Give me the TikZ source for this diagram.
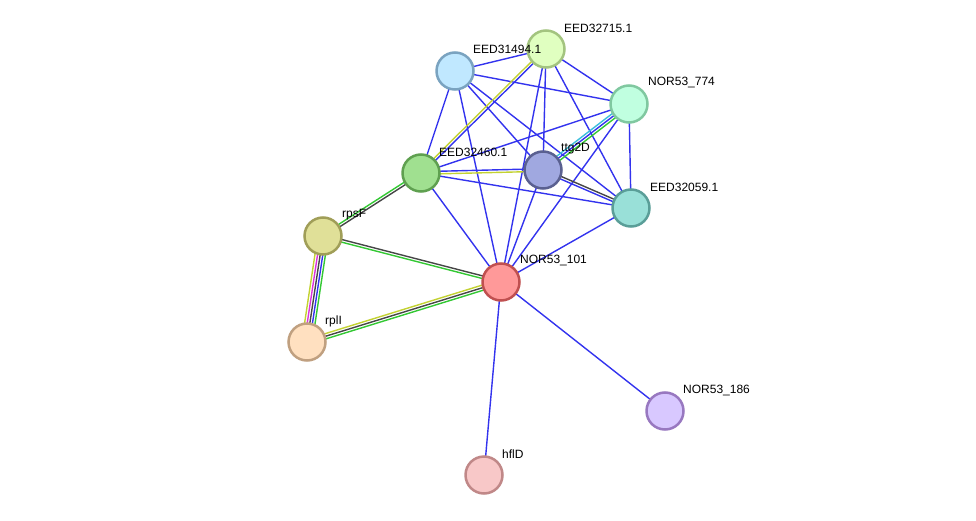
\documentclass[tikz,border=0pt]{standalone}
\usepackage{fontspec}
\setmainfont{Liberation Sans}
\usetikzlibrary{calc,backgrounds}

\definecolor{linkblue}{RGB}{51,51,238}
\definecolor{linkgreen}{RGB}{51,200,51}
\definecolor{linkblack}{RGB}{70,70,70}
\definecolor{linkyellow}{RGB}{195,210,50}
\definecolor{linkmagenta}{RGB}{220,50,220}
\definecolor{linkcyan}{RGB}{60,190,220}

% parallel links between two proteins, one line per evidence colour
\newcommand\evlinks[3]{%
  \foreach \c [count=\i] in {#3} {\xdef\nlines{\i}}
  \foreach \c [count=\i] in {#3} {
    \pgfmathsetmacro\off{((\nlines+1)/2-\i)*2.6}
    \draw[link,\c] ($(#1)!\off pt!90:(#2)$) -- ($(#2)!\off pt!-90:(#1)$);
  }%
}

\begin{document}
\begin{tikzpicture}[x=1pt,y=-1pt,
    protein/.style={circle, line width=2.5pt, minimum size=37pt, inner sep=0pt},
    plabel/.style={anchor=west, font=\fontsize{12}{14}\selectfont, inner sep=0pt},
    link/.style={line width=1.4pt}]
    \useasboundingbox (0,0) rectangle (976,521);

    % proteins
    \node[protein, fill={rgb,255:red,224;green,255;blue,192}, draw={rgb,255:red,163;green,196;blue,127}] (e32715) at (546,49) {};
    \node[protein, fill={rgb,255:red,192;green,232;blue,255}, draw={rgb,255:red,122;green,163;blue,192}] (e31494) at (455,71) {};
    \node[protein, fill={rgb,255:red,192;green,255;blue,224}, draw={rgb,255:red,128;green,200;blue,160}] (n774) at (629,104) {};
    \node[protein, fill={rgb,255:red,160;green,224;blue,144}, draw={rgb,255:red,95;green,160;blue,80}] (e32460) at (421,173) {};
    \node[protein, fill={rgb,255:red,160;green,168;blue,224}, draw={rgb,255:red,90;green,96;blue,144}] (ttg) at (543,170) {};
    \node[protein, fill={rgb,255:red,153;green,224;blue,216}, draw={rgb,255:red,90;green,158;blue,152}] (e32059) at (631,208) {};
    \node[protein, fill={rgb,255:red,224;green,224;blue,152}, draw={rgb,255:red,160;green,158;blue,88}] (rpsF) at (323,236) {};
    \node[protein, fill={rgb,255:red,255;green,153;blue,153}, draw={rgb,255:red,192;green,80;blue,80}] (n101) at (501,282) {};
    \node[protein, fill={rgb,255:red,255;green,224;blue,192}, draw={rgb,255:red,192;green,160;blue,128}] (rplI) at (307,342) {};
    \node[protein, fill={rgb,255:red,216;green,200;blue,255}, draw={rgb,255:red,152;green,120;blue,192}] (n186) at (665,411) {};
    \node[protein, fill={rgb,255:red,248;green,200;blue,200}, draw={rgb,255:red,192;green,136;blue,136}] (hflD) at (484,475) {};

    % labels
    \node[plabel] (le32715) at ($(e32715)+(18,-21)$) {EED32715.1};
    \node[plabel] (le31494) at ($(e31494)+(18,-22)$) {EED31494.1};
    \node[plabel] (ln774) at ($(n774)+(19,-21)$) {NOR53\_774};
    \node[plabel] (le32460) at ($(e32460)+(18,-21)$) {EED32460.1};
    \node[plabel] (lttg) at ($(ttg)+(18,-21)$) {ttg2D};
    \node[plabel] (le32059) at ($(e32059)+(19,-21)$) {EED32059.1};
    \node[plabel] (lrpsF) at ($(rpsF)+(19,-21)$) {rpsF};
    \node[plabel] (ln101) at ($(n101)+(19,-21)$) {NOR53\_101};
    \node[plabel] (lrplI) at ($(rplI)+(18,-21)$) {rplI};
    \node[plabel] (ln186) at ($(n186)+(18,-20)$) {NOR53\_186};
    \node[plabel] (lhflD) at ($(hflD)+(18,-21)$) {hflD};

    % links
    \begin{pgfonlayer}{background}
        \evlinks{e31494}{e32715}{linkblue}
        \evlinks{e31494}{n774}{linkblue}
        \evlinks{e31494}{e32460}{linkblue}
        \evlinks{e31494}{ttg}{linkblue}
        \evlinks{e31494}{e32059}{linkblue}
        \evlinks{e31494}{n101}{linkblue}
        \evlinks{e32460}{e32715}{linkyellow,linkblue}
        \evlinks{e32715}{ttg}{linkblue}
        \evlinks{e32715}{n101}{linkblue}
        \evlinks{e32715}{n774}{linkblue}
        \evlinks{e32715}{e32059}{linkblue}
        \evlinks{n774}{e32460}{linkblue}
        \evlinks{ttg}{n774}{linkcyan,linkblue,linkgreen}
        \evlinks{n774}{e32059}{linkblue}
        \evlinks{n774}{n101}{linkblue}
        \evlinks{e32460}{ttg}{linkblue,linkyellow}
        \evlinks{e32460}{e32059}{linkblue}
        \evlinks{e32460}{n101}{linkblue}
        \evlinks{rpsF}{e32460}{linkgreen,linkblack}
        \evlinks{ttg}{e32059}{linkblack,linkblue}
        \evlinks{ttg}{n101}{linkblue}
        \evlinks{e32059}{n101}{linkblue}
        \evlinks{rpsF}{n101}{linkblack,linkgreen}
        \evlinks{rpsF}{rplI}{linkgreen,linkblue,linkblack,linkmagenta,linkyellow}
        \evlinks{rplI}{n101}{linkyellow,linkblack,linkgreen}
        \evlinks{n101}{n186}{linkblue}
        \evlinks{n101}{hflD}{linkblue}
    \end{pgfonlayer}
\end{tikzpicture}
\end{document}
